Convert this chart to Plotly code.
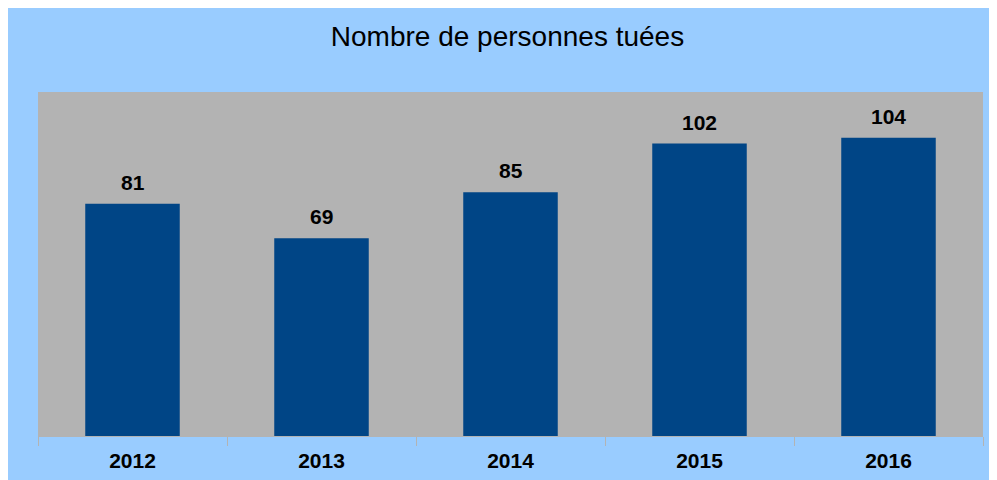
import plotly.graph_objects as go

years = ["2012", "2013", "2014", "2015", "2016"]
killed = [81, 69, 85, 102, 104]

fig = go.Figure()
fig.add_trace(go.Bar(
    x=years, y=killed,
    marker=dict(color="#004586", line=dict(width=0)),
    width=0.5,
    hoverinfo="x+y",
))

for i, v in enumerate(killed):
    fig.add_annotation(
        x=i, y=v, text=f"<b>{v}</b>", showarrow=False,
        yanchor="bottom", yshift=8,
        font=dict(family="Liberation Sans", size=21, color="#000000"),
    )

W, H = 1000, 480
fig.update_layout(
    width=W, height=H,
    margin=dict(l=30, r=25, t=84, b=52),
    paper_bgcolor="#99ccff",
    plot_bgcolor="#b3b3b3",
    showlegend=False,
    title=dict(
        text="Nombre de personnes tuées",
        font=dict(family="Liberation Sans", size=28, color="#000000"),
        xref="container", x=499.5 / W, xanchor="center",
        yref="container", y=1 - 28.0 / H, yanchor="middle",
    ),
    xaxis=dict(
        type="category",
        range=[-0.5, len(years) - 0.5],
        showgrid=False, zeroline=False,
        showline=True, linecolor="#b3b3b3", linewidth=1,
        ticks="outside", ticklen=9, tickcolor="#b3b3b3", tickwidth=1,
        tickson="boundaries", tickangle=0, automargin=False,
        ticklabelstandoff=6,
        tickfont=dict(family="Liberation Sans", size=21, color="#000000", weight="bold"),
    ),
    yaxis=dict(
        range=[0, 120], visible=False, showgrid=False, zeroline=False,
    ),
)

fig.write_html(
    "out.html",
    post_script="document.documentElement.style.overflow='hidden';document.body.style.overflow='hidden';",
)
